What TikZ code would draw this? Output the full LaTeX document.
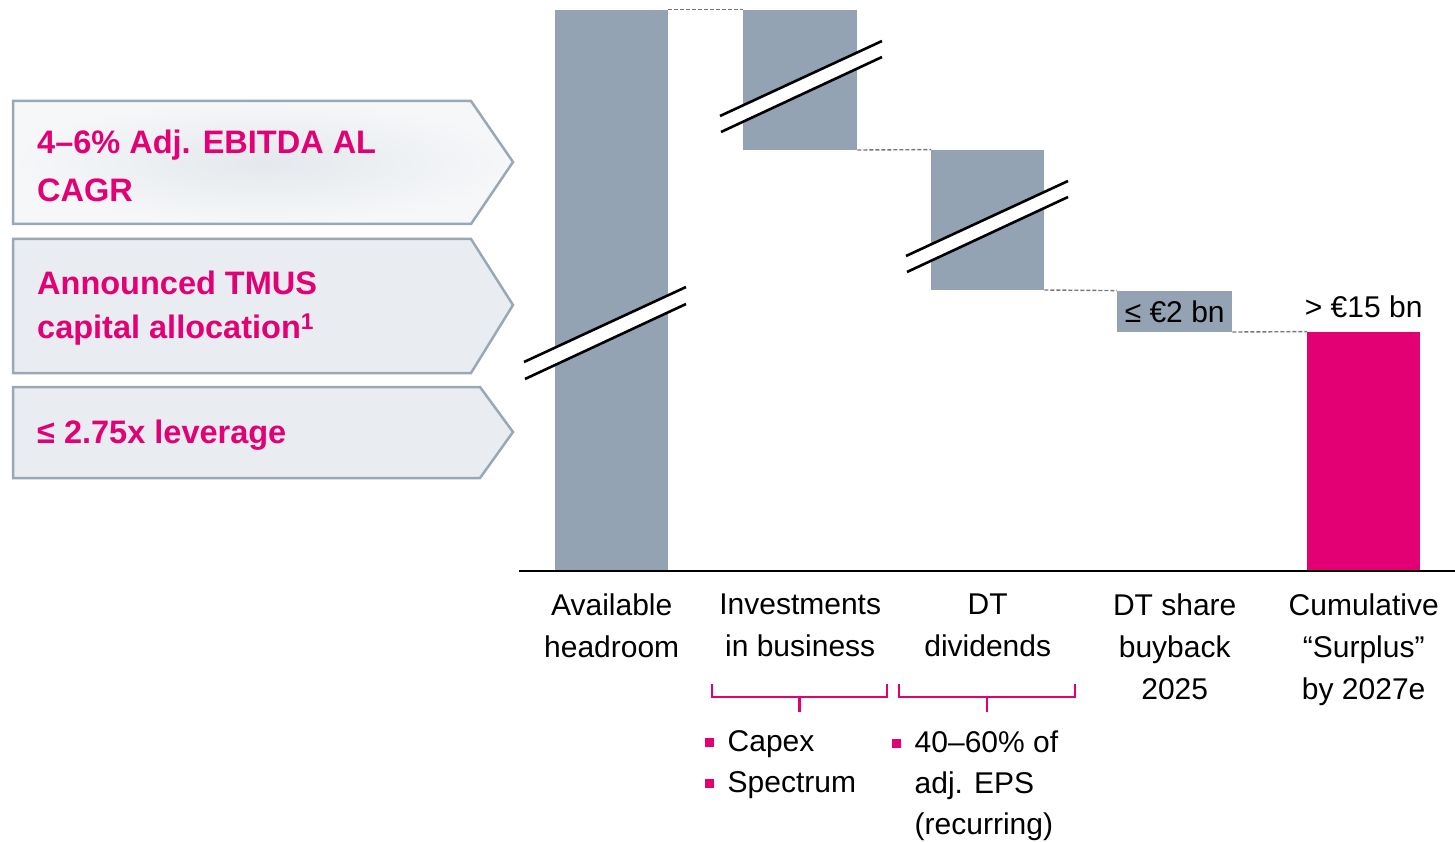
\documentclass[tikz,border=0pt]{standalone}
\usepackage{fontspec}
\setmainfont{Liberation Sans}
\usepackage{tikz}
\usetikzlibrary{positioning}
\definecolor{tmagenta}{HTML}{E20074}
\definecolor{bargray}{HTML}{94A3B3}
\definecolor{flagline}{HTML}{9AA8B6}
\definecolor{flagfill}{HTML}{E9EDF1}
\definecolor{flaglight}{HTML}{F5F7F9}
\definecolor{flagmid}{HTML}{E5E8EC}
\definecolor{dashgray}{HTML}{767676}
\newcommand{\sqbul}{\makebox[22.5pt][l]{\textcolor{tmagenta}{\rule[4.7pt]{8.5pt}{8.5pt}}}}
\begin{document}
\begin{tikzpicture}[x=1pt,y=-1pt,
    bar/.style={fill=bargray, draw=none, inner sep=0pt, anchor=south west},
    flag/.style={draw=flagline, line width=2.5pt, line join=miter},
    flagtext/.style={anchor=north west, inner sep=0pt, align=left, text=tmagenta, font=\bfseries\fontsize{32.5}{48}\selectfont},
    lbl/.style={anchor=north, inner sep=0pt, align=center, font=\fontsize{30}{42}\selectfont},
    blist/.style={anchor=north west, inner sep=0pt, align=left, font=\fontsize{30}{41}\selectfont},
    conn/.style={draw=dashgray, line width=1.4pt, dash pattern=on 4pt off 2pt},
    brk/.style={black, line width=2.6pt},
    brkt/.style={draw=tmagenta, line width=2.5pt}]
    \useasboundingbox (0,0) rectangle (1455,842);
    % left flags
    \shadedraw[flag, inner color=flagmid, outer color=flaglight]
        (13,101) -- (471,101) -- (513,162) -- (471,224) -- (13,224) -- cycle;
    \draw[flag, fill=flagfill] (13,239) -- (471,239) -- (513,305) -- (471,373) -- (13,373) -- cycle;
    \draw[flag, fill=flagfill] (13,387) -- (480,387) -- (513,432) -- (480,478) -- (13,478) -- cycle;
    \node[flagtext] (t_ebitda) at (37,129.5) {4–6\% Adj. EBITDA AL\\CAGR};
    \node[flagtext, font=\bfseries\fontsize{32.5}{44}\selectfont] (t_tmus) at (37,270.5) {Announced TMUS\\capital allocation\textsuperscript{1}};
    \node[flagtext] (t_lev) at (37,419.5) {≤ 2.75x leverage};
    % bars
    \node[bar, minimum width=113pt, minimum height=562pt] (b_avail) at (555,572) {};
    \node[bar, minimum width=114pt, minimum height=140pt] (b_inv) at (743,150) {};
    \node[bar, minimum width=113pt, minimum height=140pt] (b_div) at (931,290) {};
    \node[bar, minimum width=115pt, minimum height=41pt, font=\fontsize{30}{36}\selectfont] (b_buy) at (1117,332) {≤ €2 bn};
    \node[bar, fill=tmagenta, minimum width=113pt, minimum height=240pt] (b_cum) at (1307,572) {};
    \node[anchor=base, inner sep=0pt, font=\fontsize{30}{36}\selectfont] (v_cum) at ([yshift=14pt]b_cum.north) {> €15 bn};
    \path[conn]
        (b_avail.north east) edge (b_inv.north west)
        (b_inv.south east) edge (b_div.north west)
        (b_div.south east) edge (b_buy.north west)
        (b_buy.south east) edge (b_cum.north west);
    % breaks
    \fill[white] (524,362) -- (686,287) -- (686,304) -- (525,379) -- cycle;
    \draw[brk] (524,362) -- (686,287) (525,379) -- (686,304);
    \fill[white] (720,116) -- (882,41) -- (882,57) -- (721,132) -- cycle;
    \draw[brk] (720,116) -- (882,41) (721,132) -- (882,57);
    \fill[white] (906,256) -- (1068,181) -- (1068,197) -- (907,272) -- cycle;
    \draw[brk] (906,256) -- (1068,181) (907,272) -- (1068,197);
    % axis
    \coordinate (ax_l) at (519,571);
    \coordinate (ax_r) at (1455,571);
    \draw[line width=2pt] (ax_l) -- (ax_r);
    % labels
    \node[lbl] (l_avail) at ([yshift=-21.5pt]b_avail.south) {Available\\headroom};
    \node[lbl] (l_inv) at ([yshift=-21.5pt]b_inv.south |- b_avail.south) {Investments\\in business};
    \node[lbl] (l_div) at ([yshift=-21.5pt]b_div.south |- b_avail.south) {DT\\dividends};
    \node[lbl] (l_buy) at ([yshift=-21.5pt]b_buy.south |- b_avail.south) {DT share\\buyback\\2025};
    \node[lbl] (l_cum) at ([yshift=-21.5pt]b_cum.south) {Cumulative\\“Surplus”\\by 2027e};
    % brackets
    \draw[brkt] (712,684) |- (887,697) -- (887,684) (799.5,697) -- (799.5,712);
    \draw[brkt] (899,684) |- (1075,697) -- (1075,684) (987,697) -- (987,712);
    \node[blist] (d_inv) at (705,730.5) {\sqbul Capex\\\sqbul Spectrum};
    \node[blist] (d_div) at (892,730.5) {\sqbul 40–60\% of\\\hspace*{22.5pt}adj. EPS\\\hspace*{22.5pt}(recurring)};
\end{tikzpicture}
\end{document}
